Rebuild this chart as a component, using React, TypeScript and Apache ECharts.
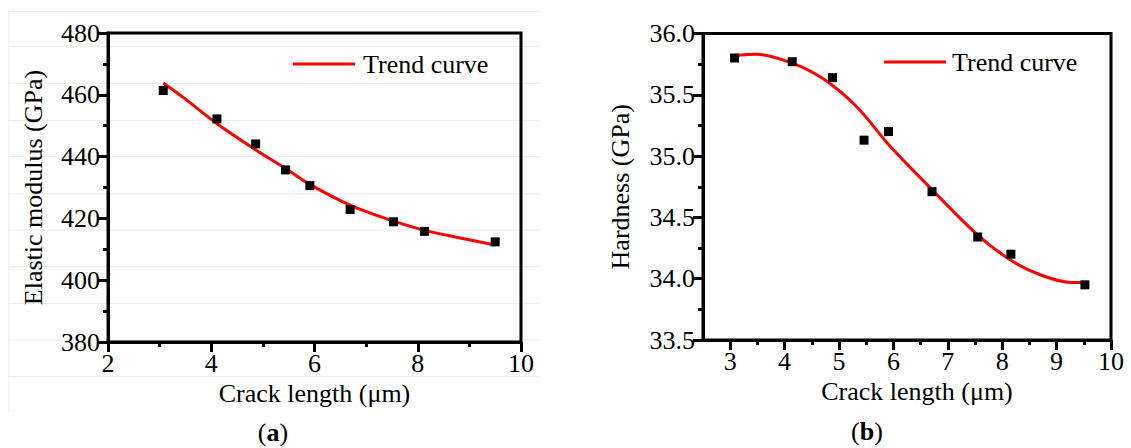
import React, { useEffect, useRef } from 'react';
import * as echarts from 'echarts';

// ---- Data ----
const aPointX = [3.07, 4.11, 4.86, 5.44, 5.91, 6.69, 7.53, 8.13, 9.5];
const aPointY = [461.4, 452.2, 444.1, 435.7, 430.6, 422.9, 418.9, 415.8, 412.4];
const aCurveX = [3.07, 3.5, 4.1, 4.85, 5.5, 5.9, 6.7, 7.5, 8.1, 8.75, 9.5];
const aCurveY = [463.8, 458.6, 450.8, 442.3, 435.5, 431.1, 424.2, 419.3, 416.3, 413.9, 411.4];

const bPointX = [3.08, 4.14, 4.88, 5.46, 5.91, 6.71, 7.55, 8.16, 9.52];
const bPointY = [35.8, 35.77, 35.64, 35.13, 35.2, 34.71, 34.34, 34.2, 33.95];
const bCurveX = [3.08, 3.49, 4.13, 4.71, 5.33, 5.94, 6.68, 7.54, 8.16, 8.71, 9.26, 9.52];
const bCurveY = [35.82, 35.83, 35.76, 35.63, 35.4, 35.08, 34.74, 34.36, 34.15, 34.03, 33.97, 33.97];

const bMajorTicks = [3, 4, 5, 6, 7, 8, 9, 10];
const bMinorTicks = [3.5, 4.5, 5.5, 6.5, 7.5, 8.5, 9.5];

const zip = (xs: number[], ys: number[]) => xs.map((x, i) => [x, ys[i]]);

const FONT = 'Liberation Serif';
const txt = (extra: any = {}) => ({ fontFamily: FONT, fontSize: 26, color: '#000', ...extra });
const ls = () => ({ color: '#000', width: 3 });

const panelLabel = (letter: string, x: number, y: number) => ({
  type: 'text',
  x,
  y,
  style: {
    text: '({b|' + letter + '})',
    align: 'center',
    verticalAlign: 'middle',
    fontFamily: FONT,
    fontSize: 26,
    fill: '#000',
    rich: { b: { fontFamily: FONT, fontSize: 26, fontWeight: 'bold', fill: '#000' } },
  },
});

const legendAt = (left: number, top: number, pad: number) => ({
  left,
  top,
  padding: 0,
  icon: 'rect',
  itemWidth: 62,
  itemHeight: 3,
  itemStyle: { color: '#ff0000' },
  textStyle: txt({ padding: [0, 0, 0, pad] }),
  data: ['Trend curve'],
  selectedMode: false,
});

function optionA() {
  const faint: any[] = [];
  [11.7, 46.7, 83.3, 120.7, 156.7, 194, 230, 266.7, 303.3, 340, 376.7].forEach((y) =>
    faint.push({
      type: 'line',
      z: -10,
      silent: true,
      shape: { x1: 8, y1: y, x2: 540, y2: y },
      style: { stroke: '#ebebeb', lineWidth: 1 },
    })
  );
  faint.push({
    type: 'line',
    z: -10,
    silent: true,
    shape: { x1: 9, y1: 12, x2: 9, y2: 412 },
    style: { stroke: '#ebebeb', lineWidth: 1 },
  });
  return {
    animation: false,
    backgroundColor: '#fff',
    grid: { left: 108, top: 33, width: 413, height: 309, show: true, borderColor: '#000', borderWidth: 3, backgroundColor: 'transparent' },
    legend: legendAt(293, 51, 3),
    xAxis: {
      type: 'value',
      min: 2,
      max: 10,
      interval: 2,
      axisLine: { show: true, onZero: false, lineStyle: ls() },
      axisTick: { show: true, length: 10, lineStyle: ls() },
      minorTick: { show: true, splitNumber: 2, length: 5, lineStyle: ls() },
      splitLine: { show: false },
      minorSplitLine: { show: false },
      axisLabel: { fontFamily: FONT, fontSize: 26, color: '#000' },
      name: 'Crack length (μm)',
      nameLocation: 'middle',
      nameGap: 35,
      nameTextStyle: txt(),
    },
    yAxis: {
      type: 'value',
      min: 380,
      max: 480,
      interval: 20,
      axisLine: { show: true, onZero: false, lineStyle: ls() },
      axisTick: { show: true, length: 10, lineStyle: ls() },
      minorTick: { show: true, splitNumber: 2, length: 5, lineStyle: ls() },
      splitLine: { show: false },
      minorSplitLine: { show: false },
      axisLabel: { textStyle: { fontFamily: FONT, fontSize: 26, color: '#000' } },
      name: 'Elastic modulus (GPa)',
      nameLocation: 'middle',
      nameGap: 62,
      nameTextStyle: txt(),
    },
    graphic: [...faint, panelLabel('a', 273, 432)],
    series: [
      {
        name: 'Trend curve',
        type: 'line',
        data: zip(aCurveX, aCurveY),
        smooth: 0.35,
        symbol: 'none',
        lineStyle: { color: '#ff0000', width: 3 },
        itemStyle: { color: '#ff0000' },
        z: 2,
      },
      {
        name: 'Elastic modulus',
        type: 'scatter',
        data: zip(aPointX, aPointY),
        symbol: 'rect',
        symbolSize: 9,
        itemStyle: { color: '#000', opacity: 1 },
        z: 3,
      },
    ],
  };
}

function optionB() {
  return {
    animation: false,
    backgroundColor: '#fff',
    grid: { left: 138, top: 33.5, width: 408, height: 306.5, show: true, borderColor: '#000', borderWidth: 3, backgroundColor: 'transparent' },
    legend: legendAt(319, 49, 1),
    xAxis: [
      {
        type: 'value',
        min: 2.5,
        max: 10,
        axisLine: { show: true, onZero: false, lineStyle: ls() },
        axisTick: { show: true, length: 10, lineStyle: ls(), customValues: bMajorTicks },
        splitLine: { show: false },
        axisLabel: { fontFamily: FONT, fontSize: 26, color: '#000', customValues: bMajorTicks },
        name: 'Crack length (μm)',
        nameLocation: 'middle',
        nameGap: 35,
        nameTextStyle: txt({ padding: [0, 0, 0, 20] }),
      },
      {
        type: 'value',
        min: 2.5,
        max: 10,
        position: 'bottom',
        axisLine: { show: false, onZero: false },
        axisTick: { show: true, length: 5, lineStyle: ls(), customValues: bMinorTicks },
        splitLine: { show: false },
        axisLabel: { show: false },
      },
    ],
    yAxis: {
      type: 'value',
      min: 33.5,
      max: 36,
      interval: 0.5,
      axisLine: { show: true, onZero: false, lineStyle: ls() },
      axisTick: { show: true, length: 10, lineStyle: ls() },
      minorTick: { show: true, splitNumber: 2, length: 5, lineStyle: ls() },
      splitLine: { show: false },
      minorSplitLine: { show: false },
      axisLabel: {
        textStyle: { fontFamily: FONT, fontSize: 26, color: '#000' },
        formatter: (v: number) => v.toFixed(1),
      },
      name: 'Hardness (GPa)',
      nameLocation: 'middle',
      nameGap: 70,
      nameTextStyle: txt(),
    },
    graphic: [panelLabel('b', 302, 431)],
    series: [
      {
        name: 'Trend curve',
        type: 'line',
        data: zip(bCurveX, bCurveY),
        smooth: 0.3,
        symbol: 'none',
        lineStyle: { color: '#ff0000', width: 3 },
        itemStyle: { color: '#ff0000' },
        z: 2,
      },
      {
        name: 'Hardness',
        type: 'scatter',
        data: zip(bPointX, bPointY),
        symbol: 'rect',
        symbolSize: 9,
        itemStyle: { color: '#000', opacity: 1 },
        z: 3,
      },
    ],
  };
}

export default function App() {
  const refA = useRef<HTMLDivElement>(null);
  const refB = useRef<HTMLDivElement>(null);
  useEffect(() => {
    if (!refA.current || !refB.current) return;
    const chartA = echarts.init(refA.current, null, { renderer: 'svg' });
    const chartB = echarts.init(refB.current, null, { renderer: 'svg' });
    chartA.setOption(optionA() as any);
    chartB.setOption(optionB() as any);
    return () => {
      chartA.dispose();
      chartB.dispose();
    };
  }, []);
  return (
    <div style={{ position: 'absolute', left: 0, top: 0, width: 1131, height: 448, background: '#fff' }}>
      <div ref={refA} style={{ position: 'absolute', left: 0, top: 0, width: 565, height: 448 }} />
      <div ref={refB} style={{ position: 'absolute', left: 565, top: 0, width: 566, height: 448 }} />
    </div>
  );
}
